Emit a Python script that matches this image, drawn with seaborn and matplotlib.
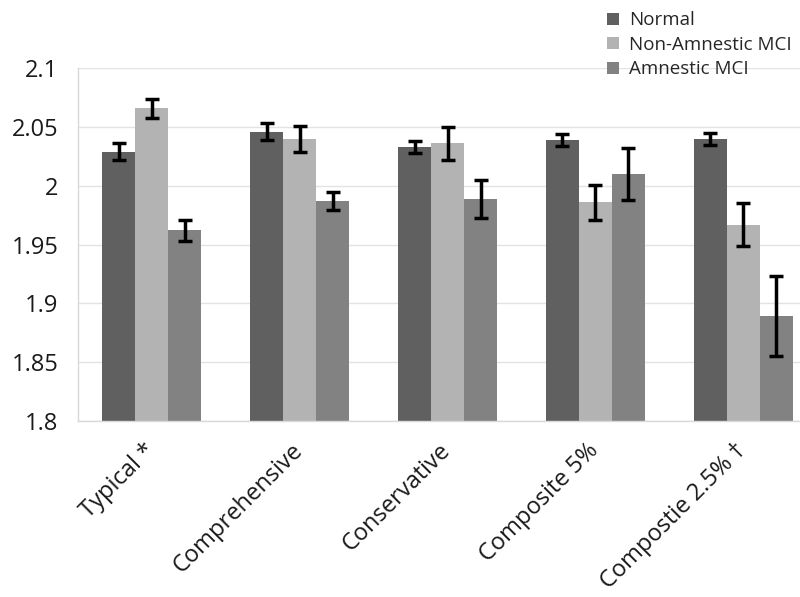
import matplotlib
matplotlib.use("Agg")
import matplotlib.pyplot as plt
import matplotlib.transforms as mtransforms
import seaborn as sns
import pandas as pd
import numpy as np
from matplotlib.patches import Patch

categories = ["Typical *", "Comprehensive", "Conservative", "Composite 5%", "Compostie 2.5% \u2020"]
groups = ["Normal", "Non-Amnestic MCI", "Amnestic MCI"]
normal = [2.029, 2.046, 2.033, 2.039, 2.040]
non_amnestic = [2.066, 2.040, 2.036, 1.986, 1.967]
amnestic = [1.962, 1.987, 1.989, 2.010, 1.889]
normal_err = [0.007, 0.007, 0.005, 0.005, 0.005]
non_amnestic_err = [0.008, 0.011, 0.014, 0.015, 0.018]
amnestic_err = [0.009, 0.008, 0.016, 0.022, 0.034]
colors = ["#606060", "#b3b3b3", "#828282"]

sns.set_style("white")
plt.rcParams['font.family'] = ['Open Sans', 'DejaVu Sans']

rows = []
for vals, errs, g in [(normal, normal_err, groups[0]), (non_amnestic, non_amnestic_err, groups[1]), (amnestic, amnestic_err, groups[2])]:
    for c, v, e in zip(categories, vals, errs):
        rows.append({"cat": c, "group": g, "value": v, "err": e})
df = pd.DataFrame(rows)

fig = plt.figure(figsize=(8, 5.97), dpi=100)
ax = fig.add_axes([0.0975, 0.2948, 0.924, 0.591])
sns.barplot(data=df, x="cat", y="value", hue="group", order=categories, hue_order=groups,
            palette=colors, width=0.67, errorbar=None, ax=ax, legend=False,
            saturation=1, linewidth=0)

# error bars
for gi, g in enumerate(groups):
    cont = ax.containers[gi]
    sub = df[df.group == g].set_index("cat").loc[categories]
    xs = [p.get_x() + p.get_width() / 2 for p in cont.patches]
    ax.errorbar(xs, sub["value"].values, yerr=sub["err"].values, fmt="none",
                ecolor="black", elinewidth=2.5, capsize=5, capthick=2.5, zorder=5)

ax.set_ylim(1.8, 2.1)
ax.set_xlim(-0.5, len(categories) - 0.5)
ax.set_yticks([1.8, 1.85, 1.9, 1.95, 2.0, 2.05, 2.1])
ax.set_yticklabels(["1.8", "1.85", "1.9", "1.95", "2", "2.05", "2.1"], fontsize=17, color="#1a1a1a")
ax.yaxis.grid(True, color="#e3e3e3", linewidth=1)
ax.set_axisbelow(True)
ax.set_xlabel("")
ax.set_ylabel("")

ax.set_xticks(range(len(categories)))
ax.set_xticklabels(categories, rotation=45, ha="right", rotation_mode="anchor",
                   fontsize=17, color="#1a1a1a")
ax.tick_params(axis="x", which="major", length=0, pad=13)
offset = mtransforms.ScaledTranslation(-9 / 100, 0, fig.dpi_scale_trans)
for lbl in ax.get_xticklabels():
    lbl.set_transform(lbl.get_transform() + offset)
ax.set_xticks(np.arange(-0.5, len(categories), 1.0), minor=True)
ax.tick_params(axis="x", which="minor", length=7, color="#d9d9d9", width=1)
ax.tick_params(axis="y", which="major", length=8, color="#d9d9d9", width=1, pad=6)

for s in ["top", "right"]:
    ax.spines[s].set_visible(False)
for s in ["left", "bottom"]:
    ax.spines[s].set_color("#d9d9d9")
    ax.spines[s].set_linewidth(1)

handles = [Patch(facecolor=c, edgecolor="none") for c in colors]
fig.legend(handles, groups, loc="upper left", bbox_to_anchor=(0.745, 1.0),
           frameon=False, fontsize=13.5, handlelength=0.6, handleheight=0.6,
           handletextpad=0.55, labelspacing=0.35, borderaxespad=0.2)

fig.savefig("out.png", dpi=100)
